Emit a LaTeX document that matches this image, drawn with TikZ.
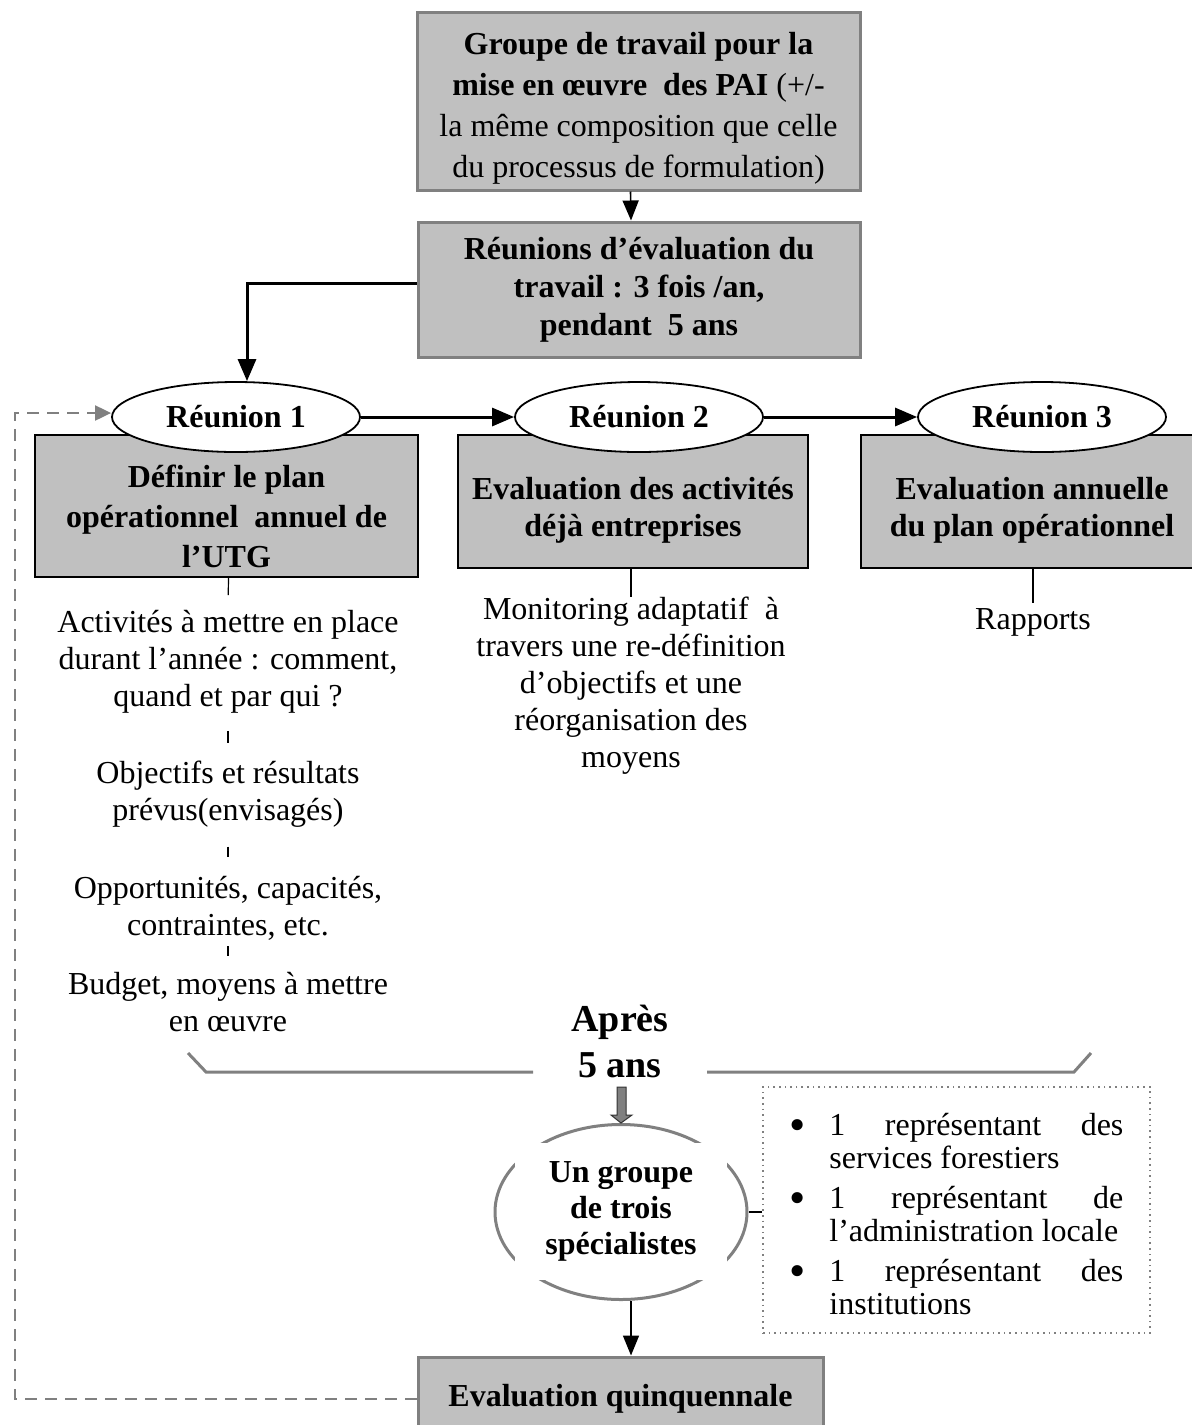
\documentclass[tikz,border=0pt]{standalone}
\usepackage{fontspec}
\setmainfont{Liberation Serif}
\usetikzlibrary{arrows.meta,shapes.geometric}
\definecolor{boxgray}{HTML}{C0C0C0}
\definecolor{edgegray}{HTML}{808080}
\newcommand{\bigbul}{\makebox[20pt][l]{\raisebox{-2.6pt}{\scalebox{1.45}{•}}}}
\begin{document}
\begin{tikzpicture}[x=0.5pt,y=-0.5pt,
  every node/.style={font=\fontsize{16}{18.5}\selectfont, inner sep=0pt},
  graybox/.style={draw=edgegray, line width=1.5pt, fill=boxgray},
  blackbox/.style={draw=black, line width=0.8pt, fill=boxgray},
  boxtext/.style={align=center, font=\fontsize{16}{19}\selectfont\bfseries},
  reunion/.style={ellipse, draw=black, line width=0.9pt, fill=white, minimum width=124pt, minimum height=35pt, font=\fontsize{16}{18.5}\selectfont\bfseries},
  plaintext/.style={align=center, font=\fontsize{16}{18.5}\selectfont},
  tickline/.style={line width=0.6pt},
  thinarrow/.style={line width=0.8pt, -{Triangle[length=10pt,width=8pt]}},
  thickarrow/.style={line width=1.5pt, -{Triangle[length=11pt,width=9pt]}},
  grayarrow/.style={edgegray, line width=1pt, dash pattern=on 6pt off 4pt, -{Triangle[length=8pt,width=7.5pt]}},
]
\useasboundingbox (0,0) rectangle (1192,1425);
\clip (0,0) rectangle (1192,1425);

% top boxes
\node[graybox, minimum width=221.5pt, minimum height=89pt] (top) at (638.5,101) {};
\node[align=center, font=\fontsize{16}{20.5}\selectfont] (topT) at (638.5,108) {\textbf{Groupe de travail pour la}\\\textbf{mise en œuvre\ \ des PAI} (+/-\\la même composition que celle\\du processus de formulation)};
\node[graybox, minimum width=221pt, minimum height=67.5pt] (eval) at (639,289.5) {};
\node[boxtext] (evalT) at (639,290) {Réunions d’évaluation du\\travail : 3 fois /an,\\pendant\ \ 5 ans};

% three boxes
\node[blackbox, minimum width=191.5pt, minimum height=71pt] (b1) at (226.5,506) {};
\node[boxtext, font=\fontsize{16}{20}\selectfont\bfseries] (b1T) at (226.5,516) {Définir le plan\\opérationnel\ \ annuel de\\l’UTG};
\node[blackbox, minimum width=175pt, minimum height=66.5pt] (b2) at (633,501.5) {};
\node[boxtext, font=\fontsize{16}{18.5}\selectfont\bfseries] (b2T) at (633,510) {Evaluation des activités\\déjà entreprises};
\node[blackbox, minimum width=169.5pt, minimum height=66.5pt] (b3) at (1030.5,501.5) {};
\node[boxtext, font=\fontsize{16}{18.5}\selectfont\bfseries] (b3T) at (1032,510) {Evaluation annuelle\\du plan opérationnel};

% ellipses
\node[reunion] (r1) at (236,417) {Réunion 1};
\node[reunion] (r2) at (639,417) {Réunion 2};
\node[reunion] (r3) at (1042,417) {Réunion 3};

% texts below
\node[plaintext] (t1) at (228,662) {Activités à mettre en place\\durant l’année : comment,\\quand et par qui ?};
\node[plaintext] (t2) at (228,794) {Objectifs et résultats\\prévus(envisagés)};
\node[plaintext] (t3) at (228,908) {Opportunités, capacités,\\contraintes, etc.};
\node[plaintext] (t4) at (228,1002) {Budget, moyens à mettre\\en œuvre};
\node[plaintext] (mon) at (631,686) {Monitoring adaptatif\ \ à\\travers une re-définition\\d’objectifs et une\\réorganisation des\\moyens};
\node[plaintext] (rap) at (1033,622) {Rapports};

% apres
\node[align=center, font=\fontsize{19}{23}\selectfont\bfseries] (apres) at (620,1041) {Après\\5 ans};

% group ellipse
\node[ellipse, draw=edgegray, line width=1.5pt, fill=white, minimum width=126pt, minimum height=87.5pt] (grp) at (621,1212) {};
\node[fill=white, minimum width=106pt, minimum height=68.5pt, align=center, font=\fontsize{16}{18}\selectfont\bfseries] (grpT) at (621,1211.5) {Un groupe\\de trois\\spécialistes};

% list box
\node[draw=edgegray, dotted, line width=0.8pt, minimum width=193.5pt, minimum height=123pt] (list) at (956.5,1210) {};
\node[anchor=west, align=left, font=\fontsize{16}{16.5}\selectfont] (listT) at (789,1214) {%
\bigbul\makebox[147pt][l]{1\hfill représentant\hfill des}\\
\hspace*{20pt}services forestiers\\[3.5pt]
\bigbul\makebox[147pt][l]{1\hfill représentant\hfill de}\\
\hspace*{20pt}l’administration locale\\[3.5pt]
\bigbul\makebox[147pt][l]{1\hfill représentant\hfill des}\\
\hspace*{20pt}institutions};

% bottom box
\node[graybox, minimum width=202.5pt, minimum height=50pt] (bot) at (620.5,1407) {};
\node[boxtext] (botT) at (620.5,1399) {Evaluation quinquennale};

% connectors
\draw[thinarrow] ([xshift=-4pt]top.south) -- ([xshift=-4pt]eval.north);
\draw[thickarrow] ([yshift=3pt]eval.west) -| ([xshift=5.5pt]r1.north);
\draw[thickarrow] (r1) -- (r2);
\draw[thickarrow] (r2) -- (r3);

\draw[tickline, shorten >=7.5pt] ([xshift=1pt]b1.south) -- (t1.north);
\draw[tickline, shorten <=8.5pt, shorten >=8.5pt] (t1.south) -- (t2.north);
\draw[tickline, shorten <=9.5pt, shorten >=9.5pt] (t2.south) -- (t3.north);
\draw[tickline, shorten <=3pt, shorten >=8pt] (t3.south) -- (t4.north);
\draw[tickline] ([xshift=-1pt]b2.south) -- ([xshift=-1pt]b2.south |- mon.north);
\draw[tickline, shorten >=2.5pt] ([xshift=1.25pt]b3.south) -- (rap.north);

% brace-like line
\draw[edgegray, line width=1.5pt] (188,1053) -- (206,1072) -- (533,1072);
\draw[edgegray, line width=1.5pt] (707,1072) -- (1074,1072) -- (1091,1053);

% block arrow
\draw[fill=edgegray, draw=black!80, line width=0.5pt] (617,1087) -- (626,1087) -- (626,1115) -- (632,1115) -- (grp.north) -- (611,1115) -- (617,1115) -- cycle;

\draw[thinarrow] ([xshift=5pt]grp.south) -- ([xshift=5pt]grp.south |- bot.north);
\draw[line width=0.6pt] (grp.east) -- (grp.east -| list.west);

\coordinate (dl) at (15,413);
\draw[grayarrow] (bot.west |- botT.west) -| (dl) -- ([yshift=2pt]r1.west);
\end{tikzpicture}
\end{document}
